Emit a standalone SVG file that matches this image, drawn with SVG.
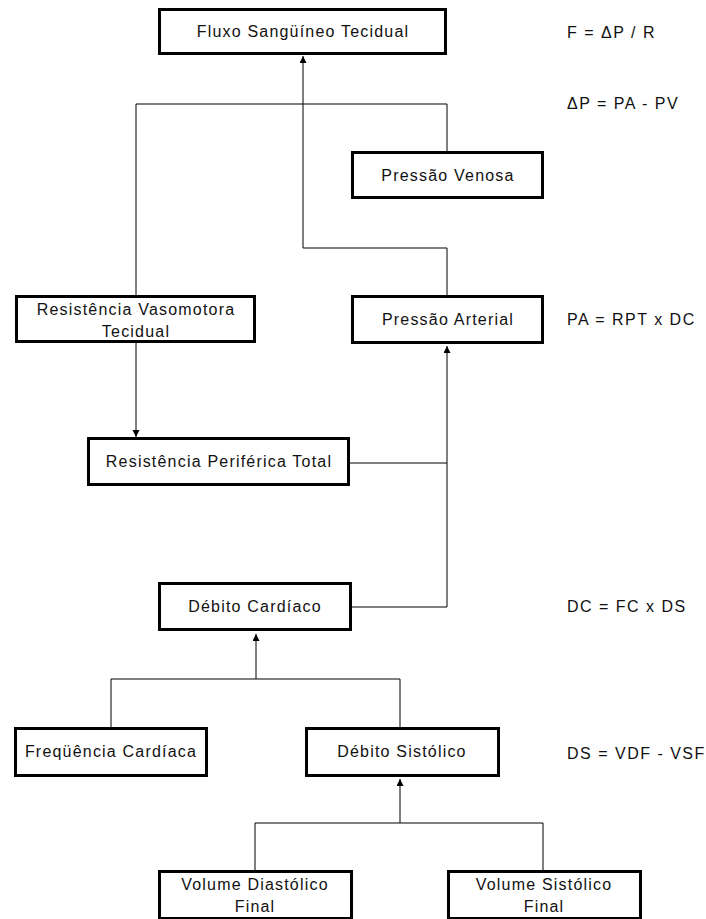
<svg xmlns="http://www.w3.org/2000/svg" width="706" height="919" viewBox="0 0 706 919">
<defs>
<style>
.box{fill:#fff;stroke:#000;stroke-width:3}
.t{font-family:"Liberation Sans",Arial,sans-serif;font-size:16px;letter-spacing:1.2px;fill:#111;text-anchor:middle}
.f{font-family:"Liberation Sans",Arial,sans-serif;font-size:16px;letter-spacing:1.5px;fill:#111}
.c{fill:none;stroke:#000;stroke-width:1}
</style>
<marker id="ah" markerUnits="userSpaceOnUse" markerWidth="8" markerHeight="8" refX="7" refY="3.5" orient="auto">
<path d="M0,0 L7,3.5 L0,7 Z" fill="#000"/>
</marker>
</defs>
<rect width="706" height="919" fill="#fff"/>
<g id="connectors">
<polyline class="c" points="136,295 136,104 447,104 447,151"/>
<polyline class="c" points="447,295 447,248 303,248 303,56" marker-end="url(#ah)"/>
<polyline class="c" points="136,343 136,437" marker-end="url(#ah)"/>
<polyline class="c" points="350,463 447,463"/>
<polyline class="c" points="352,607 447,607 447,346" marker-end="url(#ah)"/>
<polyline class="c" points="111,727 111,679 400,679 400,727"/>
<polyline class="c" points="256,679 256,634" marker-end="url(#ah)"/>
<polyline class="c" points="255,870 255,823 543,823 543,870"/>
<polyline class="c" points="400,823 400,779" marker-end="url(#ah)"/>
</g>
<g id="fluxo"><rect class="box" x="159.5" y="9.5" width="286" height="44"/><text class="t" x="303" y="37">Fluxo Sangüíneo Tecidual</text></g>
<g id="pvenosa"><rect class="box" x="352.5" y="152.5" width="190" height="45"/><text class="t" x="448" y="181">Pressão Venosa</text></g>
<g id="rvt"><rect class="box" x="16.5" y="296.5" width="238" height="45"/><text class="t" x="136" y="315">Resistência Vasomotora</text><text class="t" x="136" y="337">Tecidual</text></g>
<g id="parterial"><rect class="box" x="352.5" y="296.5" width="190" height="46"/><text class="t" x="448" y="325">Pressão Arterial</text></g>
<g id="rpt"><rect class="box" x="88.5" y="438.5" width="260" height="46"/><text class="t" x="219" y="467">Resistência Periférica Total</text></g>
<g id="dc"><rect class="box" x="159.5" y="583.5" width="191" height="46"/><text class="t" x="255" y="612">Débito Cardíaco</text></g>
<g id="fc"><rect class="box" x="15.5" y="728.5" width="191" height="47"/><text class="t" x="111" y="757">Freqüência Cardíaca</text></g>
<g id="ds"><rect class="box" x="306.5" y="728.5" width="192" height="47"/><text class="t" x="402" y="757">Débito Sistólico</text></g>
<g id="vdf"><rect class="box" x="159.5" y="871.5" width="192" height="47"/><text class="t" x="255" y="890">Volume Diastólico</text><text class="t" x="255" y="912">Final</text></g>
<g id="vsf"><rect class="box" x="448.5" y="871.5" width="192" height="47"/><text class="t" x="544" y="890">Volume Sistólico</text><text class="t" x="544" y="912">Final</text></g>
<g id="formulas">
<text class="f" x="567" y="38">F = ΔP / R</text>
<text class="f" x="567" y="109">ΔP = PA - PV</text>
<text class="f" x="567" y="325">PA = RPT x DC</text>
<text class="f" x="567" y="612">DC = FC x DS</text>
<text class="f" x="567" y="759">DS = VDF - VSF</text>
</g>
</svg>
